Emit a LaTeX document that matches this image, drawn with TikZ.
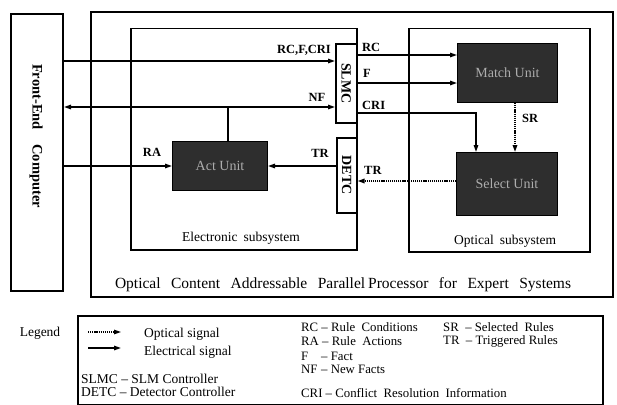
\documentclass[tikz,border=0pt]{standalone}
\usepackage{fontspec}
\setmainfont{Liberation Serif}
\usetikzlibrary{arrows.meta}
\begin{document}
\begin{tikzpicture}[x=1pt,y=-1pt,
  frame/.style={draw,line width=1.8pt,inner sep=0pt,anchor=north west},
  unitbox/.style={draw=black,line width=1pt,fill=black!82,inner sep=0pt,anchor=north west},
  unittext/.style={text=black!32,font=\fontsize{14}{14}\selectfont},
  elec/.style={line width=1.4pt,-{Triangle[length=7pt,width=4.5pt]}},
  opto/.style={line width=1.6pt,dash pattern=on 1.2pt off 0.9pt,-{Triangle[length=7pt,width=4.5pt]}},
  plain/.style={line width=1.4pt},
  lbl/.style={font=\bfseries\fontsize{12.5}{12.5}\selectfont,inner sep=0pt},
  txt/.style={font=\fontsize{13.5}{14}\selectfont,inner sep=0pt,anchor=west},
  rtxt/.style={txt,font=\fontsize{12.8}{13}\selectfont},
]
\useasboundingbox (0,0) rectangle (617,404);
% boxes
\node[frame,line width=2pt,minimum width=52pt,minimum height=277pt] (fe) at (10,13) {};
\node[font=\bfseries\fontsize{14.5}{14.5}\selectfont,rotate=-90] (fetext) at (36,136) {Front-End\quad Computer};
\node[frame,minimum width=522pt,minimum height=285pt] (outer) at (90,11) {};
\node[frame,line width=1.5pt,minimum width=226pt,minimum height=221pt] (elecsys) at (130,28) {};
\node[frame,line width=1.5pt,minimum width=181pt,minimum height=223pt] (optsys) at (408,28) {};
\node[frame,line width=1.6pt,minimum width=21pt,minimum height=79pt] (slmc) at (335,43) {};
\node[lbl,rotate=-90,font=\bfseries\fontsize{14}{14}\selectfont] (slmctext) at (slmc.center) {SLMC};
\node[frame,line width=1.6pt,minimum width=20pt,minimum height=75pt] (detc) at (336,137) {};
\node[lbl,rotate=-90,font=\bfseries\fontsize{14}{14}\selectfont] (detctext) at (detc.center) {DETC};
\node[unitbox,minimum width=100pt,minimum height=59pt] (match) at (457,43) {};
\node[unittext] (matchtext) at (match.center) {Match Unit};
\node[unitbox,minimum width=101pt,minimum height=63pt] (select) at (456,152) {};
\node[unittext] (selecttext) at (select.center) {Select Unit};
\node[unitbox,minimum width=95pt,minimum height=49pt] (act) at (172,141) {};
\node[unittext] (acttext) at (act.center) {Act Unit};
% subsystem labels
\node[font=\fontsize{13.5}{14}\selectfont,inner sep=0pt] (elab) at (241,238) {Electronic\hspace{6pt}subsystem};
\node[font=\fontsize{13.5}{14}\selectfont,inner sep=0pt] (olab) at (505,241) {Optical\hspace{6pt}subsystem};
\node[font=\fontsize{15.5}{16}\selectfont,inner sep=0pt] (title) at (343,285) {\spaceskip=10.5pt Optical Content Addressable Parallel\hspace{3pt}Processor for Expert Systems};
% connectors
\draw[elec] (fe.east |- 0,61) -- (slmc.west |- 0,61);
\node[lbl,anchor=east] (l1) at (331,50) {RC,F,CRI};
\coordinate (nfj) at (228,107);
\draw[plain] (act.north -| nfj) -- (nfj);
\draw[elec] (nfj) -- (fe.east |- nfj);
\draw[elec] (nfj) -- (slmc.west |- nfj);
\node[lbl] (l2) at (317,97) {NF};
\draw[elec] (fe.east |- act.west) -- (act.west);
\node[lbl] (l3) at (152,152) {RA};
\draw[elec] (detc.west |- act.east) -- (act.east);
\node[lbl] (l4) at (320,153) {TR};
\draw[elec] (slmc.east |- 0,55) -- (match.west |- 0,55);
\node[lbl,anchor=west] (l5) at (362,47) {RC};
\draw[elec] (slmc.east |- 0,83) -- (match.west |- 0,83);
\node[lbl,anchor=west] (l6) at (363,73) {F};
\draw[elec] (slmc.east |- 0,113) -| (select.north -| 476,0);
\node[lbl,anchor=west] (l7) at (362,105) {CRI};
\draw[opto] (match.south -| 515,0) -- (select.north -| 515,0);
\node[lbl,anchor=west] (l8) at (522,118) {SR};
\draw[opto] (select.west |- 0,181) -- (detc.east |- 0,181);
\node[lbl,anchor=west] (l9) at (364,170) {TR};
% legend
\node[frame,line width=1.5pt,minimum width=525pt,minimum height=89pt] (legbox) at (77,315) {};
\node[txt,anchor=center] (legend) at (40,333) {Legend};
\coordinate (oa) at (88,332);
\coordinate (ob) at (121,332);
\draw[opto,line width=1.2pt] (oa) -- (ob);
\node[txt] (ot) at (144,334) {Optical signal};
\coordinate (ea) at (88,348);
\coordinate (eb) at (121,348);
\draw[elec] (ea) -- (eb);
\node[txt] (et) at (144,352) {Electrical signal};
\node[txt] (s1) at (81,379) {SLMC -- SLM Controller};
\node[txt] (s2) at (81,392) {DETC -- Detector Controller};
\node[rtxt] (r1) at (301,327) {RC -- Rule\ \ Conditions};
\node[rtxt] (r2) at (301,341) {RA -- Rule\ \ Actions};
\node[rtxt] (r3) at (301,356) {\makebox[20pt][l]{F}-- Fact};
\node[rtxt] (r4) at (301,369) {\makebox[20pt][l]{NF}-- New Facts};
\node[rtxt] (r5) at (301,393) {CRI -- Conflict\ \ Resolution\ \ Information};
\node[rtxt] (r6) at (443,327) {SR \ -- Selected\ \ Rules};
\node[rtxt] (r7) at (443,341) {TR \ -- Triggered Rules};
\end{tikzpicture}
\end{document}
